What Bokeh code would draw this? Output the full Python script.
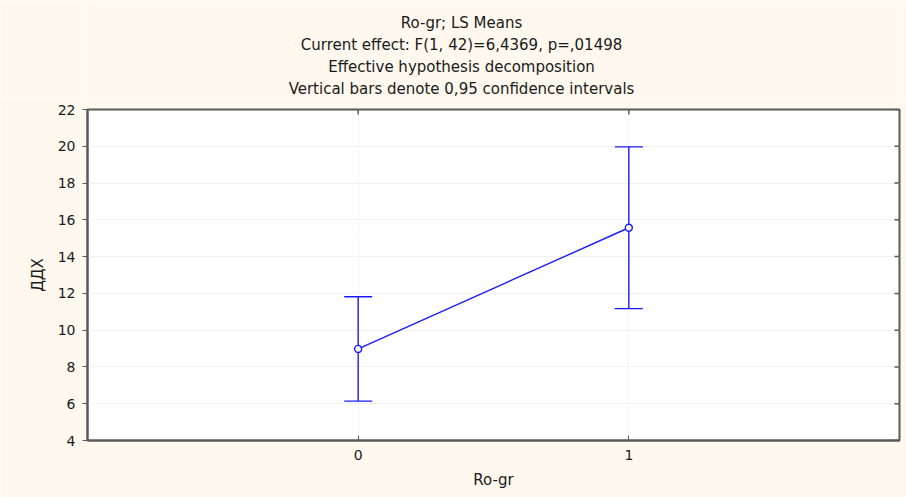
from bokeh.plotting import figure
from bokeh.layouts import column
from bokeh.models import (ColumnDataSource, Whisker, TeeHead, FixedTicker, Range1d)
from bokeh.core.properties import value
from bokeh.embed import file_html
from bokeh.resources import INLINE

# LS means of ДДХ by Ro-gr group with 0.95 confidence limits
groups = [0, 1]
ls_means = [8.98, 15.57]
ci_lower = [6.14, 11.17]
ci_upper = [11.82, 19.97]

x_ticks = [0, 1]
y_ticks = [4, 6, 8, 10, 12, 14, 16, 18, 20, 22]

title_lines = [
    "Ro-gr; LS Means",
    "Current effect: F(1, 42)=6,4369, p=,01498",
    "Effective hypothesis decomposition",
    "Vertical bars denote 0,95 confidence intervals",
]

WIDTH, HEAD_H, BODY_H = 906, 97, 400
BORDER_L, BORDER_R = 87, 7
X_MIN, X_MAX = -1, 2
Y_MIN, Y_MAX = 4, 22
FRAME_W, FRAME_H = WIDTH - BORDER_L - BORDER_R, 331

FONT = "DejaVu Sans"
TEXT = "#1a1a1a"
BLUE = "#1a1aff"
AXIS = "#5a5a5a"
CREAM = "#fff8ee"

# ---- heading block: a bare figure whose data units are page pixels ----
head = figure(width=WIDTH, height=HEAD_H, output_backend="svg", toolbar_location=None,
              x_range=Range1d(BORDER_L, WIDTH - BORDER_R), y_range=Range1d(0, HEAD_H),
              x_axis_location=None, y_axis_location=None,
              min_border_left=BORDER_L, min_border_right=BORDER_R,
              min_border_top=0, min_border_bottom=0, outline_line_color=None)
head.grid.visible = False
head.background_fill_color = CREAM
head.border_fill_color = CREAM
n = len(title_lines)
head.text(x=[461] * n, y=[HEAD_H - 22 - 22 * i for i in range(n)], text=title_lines,
          text_align="center", text_baseline="middle", text_font=value(FONT),
          text_font_size="15px", text_color=TEXT)

# ---- plot body ----
src = ColumnDataSource(dict(x=groups, mean=ls_means, lo=ci_lower, hi=ci_upper))

p = figure(width=WIDTH, height=BODY_H, output_backend="svg", toolbar_location=None,
           x_range=Range1d(X_MIN, X_MAX), y_range=Range1d(Y_MIN, Y_MAX),
           min_border_left=BORDER_L, min_border_right=BORDER_R, min_border_top=12,
           min_border_bottom=57)
p.background_fill_color = "white"
p.border_fill_color = CREAM
p.outline_line_color = AXIS
p.outline_line_width = 2

p.xaxis.ticker = FixedTicker(ticks=x_ticks)
p.yaxis.ticker = FixedTicker(ticks=y_ticks)
p.xaxis.axis_label = "Ro-gr"
p.yaxis.axis_label = "ДДХ"

for ax in (p.xaxis[0], p.yaxis[0]):
    ax.axis_line_color = AXIS
    ax.axis_line_width = 2
    ax.major_tick_line_color = AXIS
    ax.minor_tick_line_color = None
    ax.major_label_text_font = FONT
    ax.major_label_text_font_size = "14px"
    ax.major_label_text_color = TEXT
    ax.axis_label_text_font = FONT
    ax.axis_label_text_font_size = "15px"
    ax.axis_label_text_font_style = "normal"
    ax.axis_label_text_color = TEXT

p.yaxis.major_tick_out = 5
p.yaxis.major_tick_in = 0
p.yaxis.major_label_standoff = 7
p.yaxis.axis_label_standoff = 8
p.xaxis.major_tick_out = 0
p.xaxis.major_tick_in = 5
p.xaxis.major_label_standoff = 9
p.xaxis.axis_label_standoff = 8

p.xgrid.grid_line_color = "#ececec"
p.xgrid.grid_line_dash = "2 2"
p.ygrid.grid_line_color = "#f2f2f2"

# short inward tick marks along the top and right edges of the frame
px_x = (X_MAX - X_MIN) / FRAME_W
px_y = (Y_MAX - Y_MIN) / FRAME_H
p.segment(x0=x_ticks, x1=x_ticks, y0=[Y_MAX] * len(x_ticks),
          y1=[Y_MAX - 5 * px_y] * len(x_ticks), line_color=AXIS, line_width=1.5)
p.segment(x0=[X_MAX] * len(y_ticks), x1=[X_MAX - 5 * px_x] * len(y_ticks),
          y0=y_ticks, y1=y_ticks, line_color=AXIS, line_width=1.5)

p.line("x", "mean", source=src, line_color=BLUE, line_width=1.4)
whisk = Whisker(source=src, base="x", upper="hi", lower="lo",
                line_color=BLUE, line_width=1.4,
                upper_head=TeeHead(size=28, line_color=BLUE, line_width=1.4),
                lower_head=TeeHead(size=28, line_color=BLUE, line_width=1.4))
p.add_layout(whisk)
p.scatter("x", "mean", source=src, marker="circle", size=7, fill_color="white",
          line_color=BLUE, line_width=1.4)

layout = column(head, p, spacing=0)
open("out.html", "w").write(file_html(layout, INLINE))
